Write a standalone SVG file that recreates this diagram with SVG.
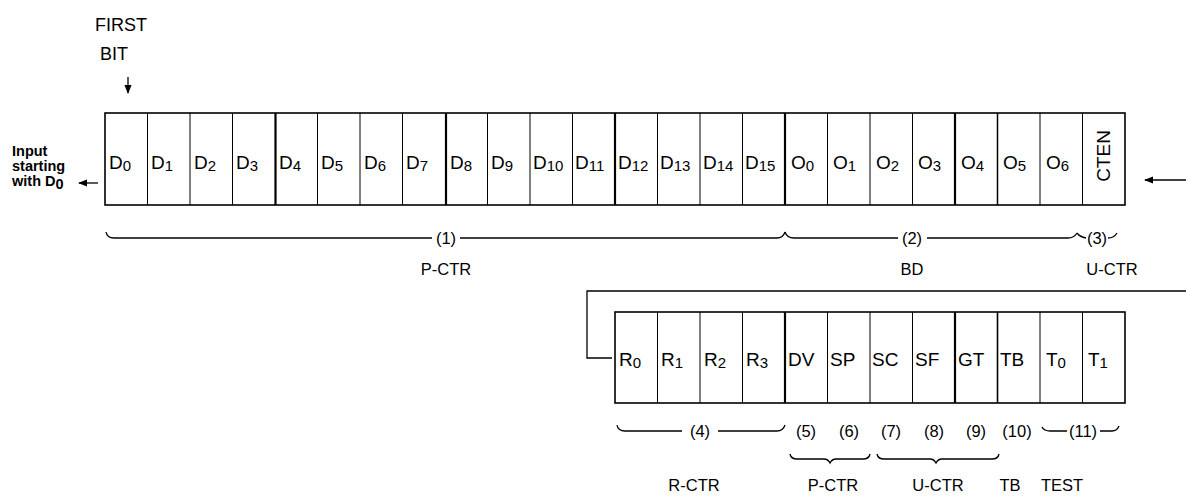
<svg xmlns="http://www.w3.org/2000/svg" width="1186" height="502" viewBox="0 0 1186 502">
<style>
  text { font-family: "Liberation Sans", Arial, sans-serif; fill: #000; }
  .c { font-size: 19px; }
  .s { font-size: 15px; }
  .lbl { font-size: 16.5px; }
  .side { font-size: 14.5px; font-weight: bold; }
  .box { fill: #fff; stroke: #000; stroke-width: 1.6; }
  .sep { stroke: #000; stroke-width: 1; }
  .thk { stroke: #000; stroke-width: 2.2; }
  .ln { fill: none; stroke: #000; stroke-width: 1.3; }
</style>
<defs>
  <marker id="ah" viewBox="0 0 10 10" refX="9" refY="5" markerWidth="7" markerHeight="7" orient="auto">
    <path d="M0,1 L10,5 L0,9 Z" fill="#000"/>
  </marker>
</defs>

<!-- top label -->
<g id="first-bit">
  <text class="lbl" x="95" y="31" style="font-size:18px">FIRST</text>
  <text class="lbl" x="100" y="60" style="font-size:18px">BIT</text>
  <line class="ln" x1="128" y1="77" x2="128" y2="93" marker-end="url(#ah)"/>
</g>

<g id="input-label">
  <text class="side" x="12" y="156">Input</text>
  <text class="side" x="12" y="171">starting</text>
  <text class="side" x="12" y="186">with D<tspan dy="3">0</tspan></text>
</g>

<!-- Row 1 -->
<g id="row1">
  <rect class="box" x="105" y="113" width="1020" height="92"/>
  <g id="row1-separators">
    <line class="sep" x1="147.5" y1="113" x2="147.5" y2="205"/>
    <line class="sep" x1="190" y1="113" x2="190" y2="205"/>
    <line class="sep" x1="232.5" y1="113" x2="232.5" y2="205"/>
    <line class="thk" x1="275.5" y1="113" x2="275.5" y2="205"/>
    <line class="sep" x1="317.5" y1="113" x2="317.5" y2="205"/>
    <line class="sep" x1="360" y1="113" x2="360" y2="205"/>
    <line class="sep" x1="402.5" y1="113" x2="402.5" y2="205"/>
    <line class="thk" x1="446" y1="113" x2="446" y2="205"/>
    <line class="sep" x1="487.5" y1="113" x2="487.5" y2="205"/>
    <line class="sep" x1="530" y1="113" x2="530" y2="205"/>
    <line class="sep" x1="572.5" y1="113" x2="572.5" y2="205"/>
    <line class="thk" x1="615" y1="113" x2="615" y2="205"/>
    <line class="sep" x1="657.5" y1="113" x2="657.5" y2="205"/>
    <line class="sep" x1="700" y1="113" x2="700" y2="205"/>
    <line class="sep" x1="742.5" y1="113" x2="742.5" y2="205"/>
    <line class="thk" x1="785" y1="113" x2="785" y2="205"/>
    <line class="sep" x1="827.5" y1="113" x2="827.5" y2="205"/>
    <line class="sep" x1="870" y1="113" x2="870" y2="205"/>
    <line class="sep" x1="912.5" y1="113" x2="912.5" y2="205"/>
    <line class="thk" x1="955" y1="113" x2="955" y2="205"/>
    <line class="sep" x1="997.5" y1="113" x2="997.5" y2="205" style="stroke-width:1.5"/>
    <line class="sep" x1="1040" y1="113" x2="1040" y2="205"/>
    <line class="sep" x1="1082.5" y1="113" x2="1082.5" y2="205"/>
  </g>
  <g id="D0"><text class="c" x="109" y="169">D<tspan class="s" dy="2">0</tspan></text></g>
  <g id="D1"><text class="c" x="151" y="169">D<tspan class="s" dy="2">1</tspan></text></g>
  <g id="D2"><text class="c" x="194" y="169">D<tspan class="s" dy="2">2</tspan></text></g>
  <g id="D3"><text class="c" x="236" y="169">D<tspan class="s" dy="2">3</tspan></text></g>
  <g id="D4"><text class="c" x="279" y="169">D<tspan class="s" dy="2">4</tspan></text></g>
  <g id="D5"><text class="c" x="321" y="169">D<tspan class="s" dy="2">5</tspan></text></g>
  <g id="D6"><text class="c" x="364" y="169">D<tspan class="s" dy="2">6</tspan></text></g>
  <g id="D7"><text class="c" x="406" y="169">D<tspan class="s" dy="2">7</tspan></text></g>
  <g id="D8"><text class="c" x="450" y="169">D<tspan class="s" dy="2">8</tspan></text></g>
  <g id="D9"><text class="c" x="491" y="169">D<tspan class="s" dy="2">9</tspan></text></g>
  <g id="D10"><text class="c" x="533" y="169">D<tspan class="s" dy="2">10</tspan></text></g>
  <g id="D11"><text class="c" x="575" y="169">D<tspan class="s" dy="2">11</tspan></text></g>
  <g id="D12"><text class="c" x="618" y="169">D<tspan class="s" dy="2">12</tspan></text></g>
  <g id="D13"><text class="c" x="660" y="169">D<tspan class="s" dy="2">13</tspan></text></g>
  <g id="D14"><text class="c" x="703" y="169">D<tspan class="s" dy="2">14</tspan></text></g>
  <g id="D15"><text class="c" x="745" y="169">D<tspan class="s" dy="2">15</tspan></text></g>
  <g id="O0"><text class="c" x="791" y="169">O<tspan class="s" dy="2">0</tspan></text></g>
  <g id="O1"><text class="c" x="833" y="169">O<tspan class="s" dy="2">1</tspan></text></g>
  <g id="O2"><text class="c" x="876" y="169">O<tspan class="s" dy="2">2</tspan></text></g>
  <g id="O3"><text class="c" x="918" y="169">O<tspan class="s" dy="2">3</tspan></text></g>
  <g id="O4"><text class="c" x="961" y="169">O<tspan class="s" dy="2">4</tspan></text></g>
  <g id="O5"><text class="c" x="1003" y="169">O<tspan class="s" dy="2">5</tspan></text></g>
  <g id="O6"><text class="c" x="1046" y="169">O<tspan class="s" dy="2">6</tspan></text></g>
  <g id="CTEN"><text class="c" x="0" y="0" text-anchor="middle" transform="translate(1110,156) rotate(-90)">CTEN</text></g>
</g>

<!-- Row 2 -->
<g id="row2">
  <rect class="box" x="615" y="312" width="510" height="91"/>
  <g id="row2-separators">
    <line class="sep" x1="657.5" y1="312" x2="657.5" y2="403"/>
    <line class="sep" x1="700" y1="312" x2="700" y2="403"/>
    <line class="sep" x1="742.5" y1="312" x2="742.5" y2="403"/>
    <line class="thk" x1="785" y1="312" x2="785" y2="403"/>
    <line class="sep" x1="827.5" y1="312" x2="827.5" y2="403"/>
    <line class="sep" x1="870" y1="312" x2="870" y2="403"/>
    <line class="sep" x1="912.5" y1="312" x2="912.5" y2="403"/>
    <line class="thk" x1="955" y1="312" x2="955" y2="403"/>
    <line class="sep" x1="997.5" y1="312" x2="997.5" y2="403" style="stroke-width:1.6"/>
    <line class="sep" x1="1040" y1="312" x2="1040" y2="403"/>
    <line class="sep" x1="1082.5" y1="312" x2="1082.5" y2="403"/>
  </g>
  <g id="R0"><text class="c" x="619" y="366">R<tspan class="s" dy="2">0</tspan></text></g>
  <g id="R1"><text class="c" x="661" y="366">R<tspan class="s" dy="2">1</tspan></text></g>
  <g id="R2"><text class="c" x="704" y="366">R<tspan class="s" dy="2">2</tspan></text></g>
  <g id="R3"><text class="c" x="746" y="366">R<tspan class="s" dy="2">3</tspan></text></g>
  <g id="DV"><text class="c" x="788" y="366">DV</text></g>
  <g id="SP"><text class="c" x="830" y="366">SP</text></g>
  <g id="SC"><text class="c" x="872" y="366">SC</text></g>
  <g id="SF"><text class="c" x="915" y="366">SF</text></g>
  <g id="GT"><text class="c" x="958" y="366">GT</text></g>
  <g id="TB"><text class="c" x="1000" y="366">TB</text></g>
  <g id="T0"><text class="c" x="1046" y="366">T<tspan class="s" dy="2">0</tspan></text></g>
  <g id="T1"><text class="c" x="1088" y="366">T<tspan class="s" dy="2">1</tspan></text></g>
</g>

<!-- Connectors -->
<g id="connectors">
  <line class="ln" x1="98" y1="183" x2="79" y2="183" marker-end="url(#ah)"/>
  <line class="ln" x1="1186" y1="180" x2="1145" y2="180" marker-end="url(#ah)"/>
  <polyline class="ln" points="1186,291 587,291 587,358 612,358"/>
</g>

<!-- Braces row 1 -->
<g id="brace-1">
  <path class="ln" d="M106,232 Q107,238 114,238 H432 M460,238 H777 Q783,238 785,232"/>
  <text class="lbl" x="446" y="244" text-anchor="middle">(1)</text>
  <text class="lbl" x="446" y="275" text-anchor="middle">P-CTR</text>
</g>
<g id="brace-2">
  <path class="ln" d="M785,232 Q787,238 794,238 H898 M927,238 H1068 Q1074,238 1077,233"/>
  <text class="lbl" x="912" y="244" text-anchor="middle">(2)</text>
  <text class="lbl" x="912" y="275" text-anchor="middle">BD</text>
</g>
<g id="brace-3">
  <path class="ln" d="M1077,233 Q1080,237 1086,238 M1108,238 Q1114,238 1117,233"/>
  <text class="lbl" x="1097" y="244" text-anchor="middle">(3)</text>
  <text class="lbl" x="1112" y="275" text-anchor="middle">U-CTR</text>
</g>

<!-- Braces row 2 -->
<g id="brace-4">
  <path class="ln" d="M617,425 Q618,431 625,431 H682 M718,431 H777 Q783,431 785,425"/>
  <text class="lbl" x="700" y="437" text-anchor="middle">(4)</text>
  <text class="lbl" x="694" y="491" text-anchor="middle">R-CTR</text>
</g>
<g id="labels-5-10">
  <text class="lbl" x="806" y="437" text-anchor="middle">(5)</text>
  <text class="lbl" x="849" y="437" text-anchor="middle">(6)</text>
  <text class="lbl" x="891" y="437" text-anchor="middle">(7)</text>
  <text class="lbl" x="934" y="437" text-anchor="middle">(8)</text>
  <text class="lbl" x="976" y="437" text-anchor="middle">(9)</text>
  <text class="lbl" x="1017" y="437" text-anchor="middle">(10)</text>
</g>
<g id="brace-5-6">
  <path class="ln" d="M790,454 Q791,459 797,459 H824 Q828,459 830,463 Q832,459 836,459 H863 Q869,459 870,454"/>
  <text class="lbl" x="833" y="491" text-anchor="middle">P-CTR</text>
</g>
<g id="brace-7-9">
  <path class="ln" d="M877,454 Q878,459 884,459 H930 Q934,459 936,463 Q938,459 942,459 H992 Q998,459 999,454"/>
  <text class="lbl" x="938" y="491" text-anchor="middle">U-CTR</text>
</g>
<g id="brace-10"><text class="lbl" x="1010" y="491" text-anchor="middle">TB</text></g>
<g id="brace-11">
  <path class="ln" d="M1042,427 Q1044,431 1050,431 H1067 M1100,431 H1112 Q1117,431 1119,426"/>
  <text class="lbl" x="1083" y="437" text-anchor="middle">(11)</text>
  <text class="lbl" x="1062" y="491" text-anchor="middle">TEST</text>
</g>
</svg>
